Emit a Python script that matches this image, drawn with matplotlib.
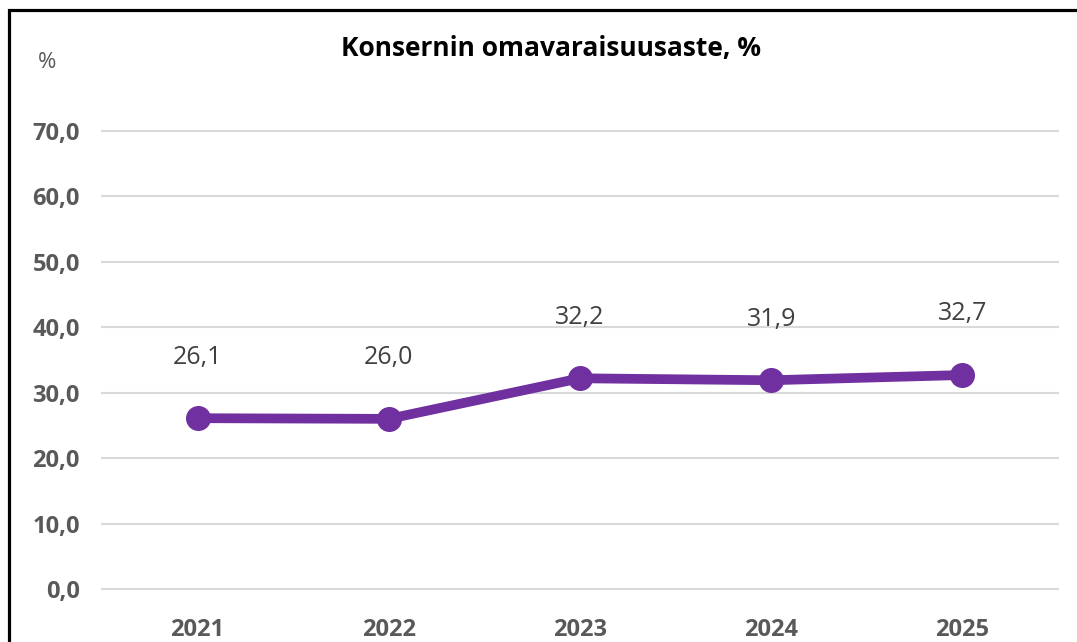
import matplotlib.pyplot as plt
from matplotlib.patches import Rectangle

# Konsernin omavaraisuusaste
years = ['2021', '2022', '2023', '2024', '2025']
values = [26.1, 26.0, 32.2, 31.9, 32.7]
yticks = [0, 10, 20, 30, 40, 50, 60, 70]

purple = '#7030A0'
grey = '#595959'

plt.rcParams['font.family'] = ['Open Sans', 'DejaVu Sans']

def fmt(v):
    return f'{v:.1f}'.replace('.', ',')

fig = plt.figure(figsize=(10.77, 6.42), dpi=100)
ax = fig.add_axes([0.0947, 0.0826, 0.8877, 0.7134])

xs = range(len(years))
ax.plot(xs, values, color=purple, lw=7, marker='o', ms=17,
        solid_capstyle='round', zorder=3, clip_on=False)

for x, v in zip(xs, values):
    ax.annotate(fmt(v), (x, v), xytext=(0, 44), textcoords='offset points',
                ha='center', va='center', fontsize=18, color='#404040')

ax.set_xlim(-0.5, len(years) - 0.5)
ax.set_ylim(0, 70)
ax.set_yticks(yticks)
ax.set_yticklabels([fmt(t) for t in yticks], fontsize=17, fontweight='bold', color=grey)
ax.set_xticks(list(xs))
ax.set_xticklabels(years, fontsize=17, fontweight='bold', color=grey)
ax.tick_params(axis='y', length=0, pad=16)
ax.tick_params(axis='x', length=0, pad=21)
ax.grid(axis='y', color='#D9D9D9', lw=1.5, clip_on=False)
ax.set_axisbelow(True)
for s in ax.spines.values():
    s.set_visible(False)

fig.text(0.512, 0.925, 'Konsernin omavaraisuusaste, %', ha='center', va='center',
         fontsize=19, fontweight='bold', color='black')
fig.text(0.044, 0.903, '%', ha='center', va='center', fontsize=16, color=grey)

# outer frame (cut off at right and bottom like the screenshot)
fig.patches.append(Rectangle((8.5 / 1077, -0.05), 1.1, 0.05 + 632 / 642,
                             transform=fig.transFigure, fill=False,
                             edgecolor='black', lw=2.3))

fig.savefig('out.png', dpi=100)
